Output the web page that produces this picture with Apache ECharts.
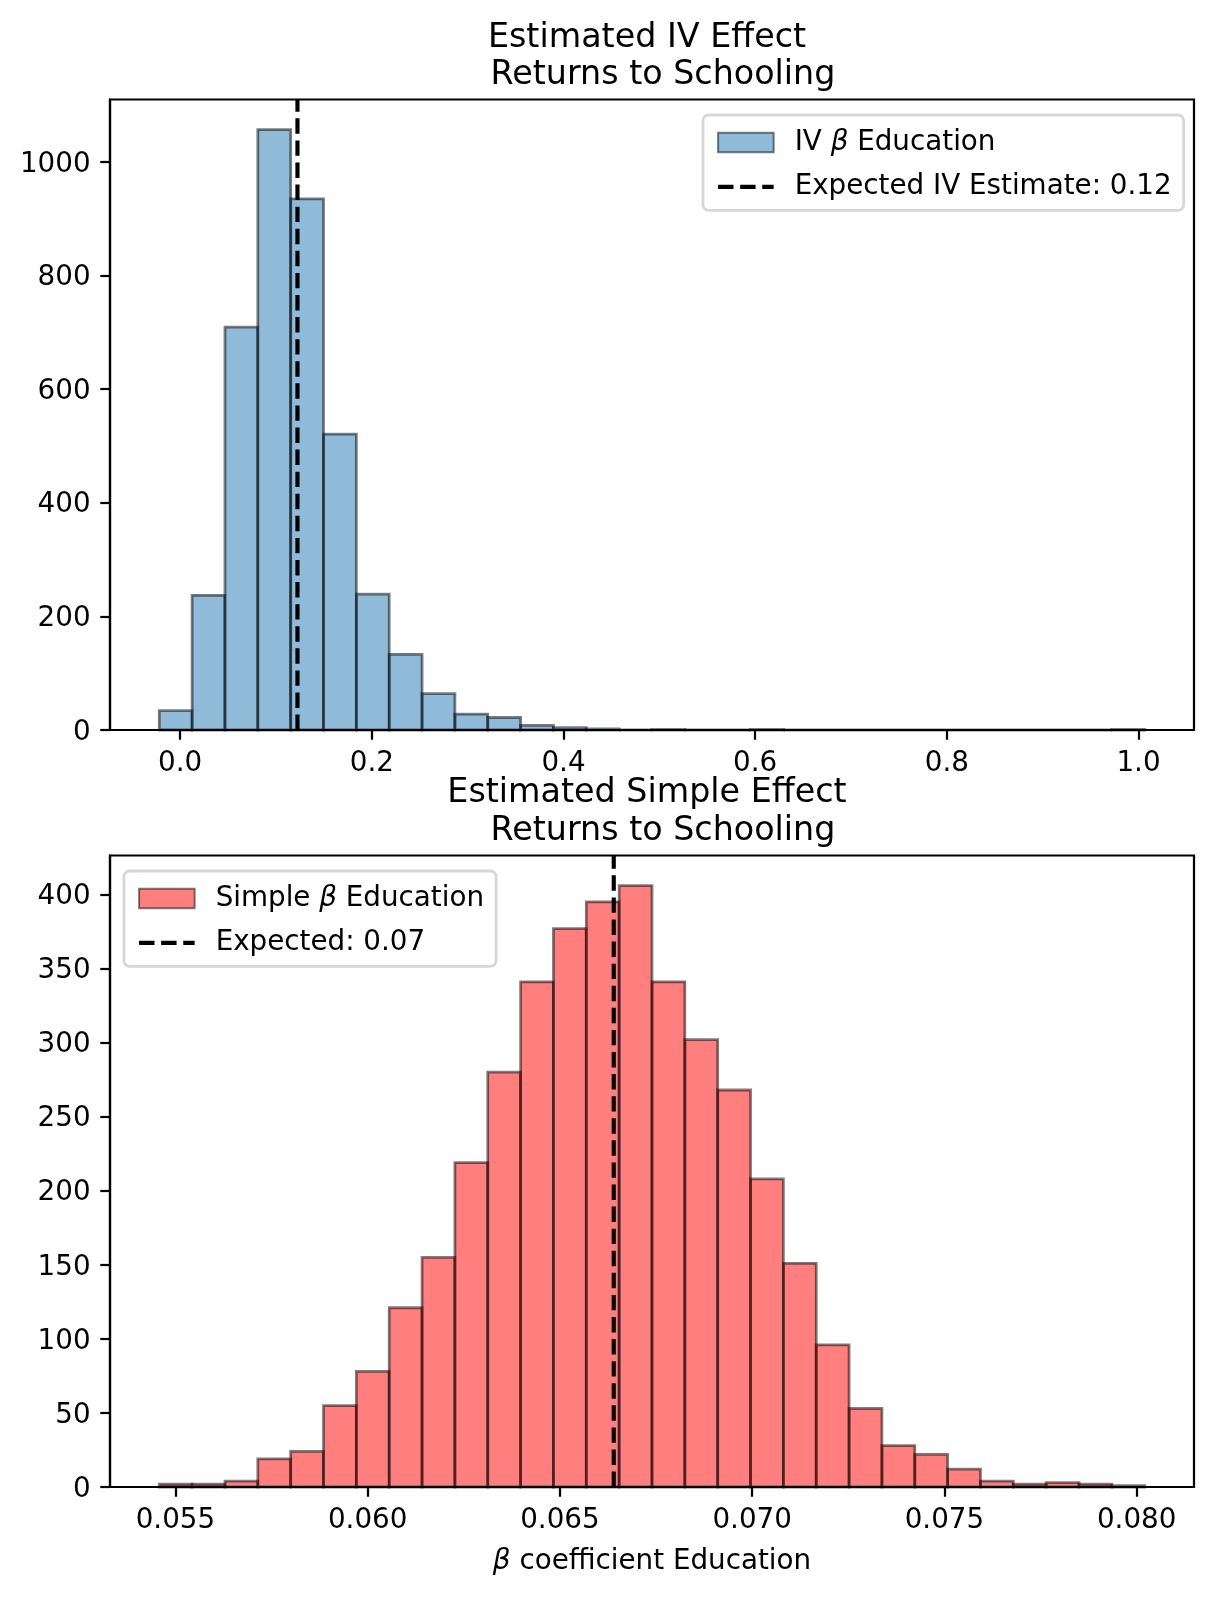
<!DOCTYPE html>
<html>
<head>
<meta charset="utf-8">
<script src="https://cdn.jsdelivr.net/npm/echarts@6/dist/echarts.min.js"></script>
<style>
  html, body { margin: 0; padding: 0; background: #ffffff; }
  #chart { width: 1214px; height: 1597px; }
</style>
</head>
<body>
<div id="chart"></div>
<script>
// IV estimate histogram, 30 equal bins over ivBinRange
const ivBinRange = [-0.0218, 1.0065];
const ivCounts = [34, 237, 709, 1057, 935, 521, 239, 133, 64, 28, 22, 8, 4, 2, 0, 1, 0, 0, 1, 0, 0, 0, 0, 0, 0, 0, 0, 0, 0, 1];
const ivExpected = 0.1224;
const ivXTicks = [0, 0.2, 0.4, 0.6, 0.8, 1.0];
const ivYTicks = [0, 200, 400, 600, 800, 1000];

// simple OLS estimate histogram, 30 equal bins over simpleBinRange
const simpleBinRange = [0.05458, 0.08021];
const simpleCounts = [2, 2, 4, 19, 24, 55, 78, 121, 155, 219, 280, 341, 377, 395, 406, 341, 302, 268, 208, 151, 96, 53, 28, 22, 12, 4, 2, 3, 2, 1];
const simpleExpected = 0.0664;
const simpleXTicks = [0.055, 0.060, 0.065, 0.070, 0.075, 0.080];
const simpleYTicks = [0, 50, 100, 150, 200, 250, 300, 350, 400];

const FONT = 'DejaVu Sans';
const PT = 200 / 72;          // figure was saved at 200 dpi
const FS = 10 * PT;           // tick / legend text
const TITLE_FS = 12 * PT;

const ivLineName = 'Expected IV Estimate: ' + ivExpected.toFixed(2);
const simpleLineName = 'Expected: ' + simpleExpected.toFixed(2);

// turn counts into [left edge, right edge, count] rows
function histRows(range, counts) {
  const w = (range[1] - range[0]) / counts.length;
  return counts.map((c, i) => [range[0] + i * w, range[0] + (i + 1) * w, c]);
}

// matplotlib default 5% x margins, 5% y headroom
function padRange(range) {
  const d = (range[1] - range[0]) * 0.05;
  return [range[0] - d, range[1] + d];
}

const ivX = padRange(ivBinRange);
const simpleX = padRange(simpleBinRange);
const ivYMax = Math.max(...ivCounts) * 1.05;
const simpleYMax = Math.max(...simpleCounts) * 1.05;

function renderBin(params, api) {
  const p0 = api.coord([api.value(0), api.value(2)]);
  const p1 = api.coord([api.value(1), 0]);
  return {
    type: 'rect',
    shape: { x: p0[0], y: p0[1], width: p1[0] - p0[0], height: p1[1] - p0[1] },
    style: api.style()
  };
}

const richBeta = { b: { fontStyle: 'italic', fontFamily: FONT, fontSize: FS, color: '#000' } };

function xAxisOf(gridIndex, ext, ticks, digits, extra) {
  return Object.assign({
    type: 'value',
    gridIndex: gridIndex,
    min: ext[0],
    max: ext[1],
    z: 3,
    axisLine: { show: true, onZero: false, lineStyle: { color: '#000', width: 0.8 * PT } },
    axisTick: { show: true, length: 3.5 * PT, customValues: ticks, lineStyle: { color: '#000', width: 0.8 * PT } },
    axisLabel: {
      customValues: ticks,
      margin: 7 * PT,
      color: '#000',
      fontFamily: FONT,
      fontSize: FS,
      formatter: v => v.toFixed(digits)
    },
    splitLine: { show: false }
  }, extra || {});
}

function yAxisOf(gridIndex, yMax, ticks) {
  return {
    type: 'value',
    gridIndex: gridIndex,
    min: 0,
    max: yMax,
    z: 3,
    axisLine: { show: true, onZero: false, lineStyle: { color: '#000', width: 0.8 * PT } },
    axisTick: { show: true, length: 3.5 * PT, customValues: ticks, lineStyle: { color: '#000', width: 0.8 * PT } },
    axisLabel: {
      customValues: ticks,
      margin: 7 * PT,
      color: '#000',
      fontFamily: FONT,
      fontSize: FS,
      // small downward nudge, matplotlib centres on the baseline
      formatter: v => '{v|' + v + '}',
      rich: { v: { fontFamily: FONT, fontSize: FS, color: '#000', padding: [5, 0, 0, 0] } }
    },
    splitLine: { show: false }
  };
}

// the dashed entry: plain line icon, its symbol made invisible
const hiddenSymbol = { color: 'rgba(0,0,0,0)', borderColor: 'rgba(0,0,0,0)', borderWidth: 0 };
const dashed = { color: '#000', width: 1.5 * PT, type: [5.55 * PT, 2.4 * PT] };

function legendOf(left, top, names) {
  return {
    orient: 'vertical',
    left: left,
    top: top,
    padding: [13.5, 12, 9.5, 13],
    itemWidth: 2 * FS,
    itemHeight: 0.7 * FS,
    itemGap: 16.3,
    backgroundColor: 'rgba(255,255,255,0.8)',
    borderColor: 'rgba(204,204,204,0.8)',
    borderWidth: PT,
    borderRadius: 0.2 * FS,
    selectedMode: false,
    textStyle: { fontFamily: FONT, fontSize: FS, color: '#000', padding: [0, 0, 0, 16], rich: richBeta },
    formatter: n => n.replace('β', '{b|β}'),
    data: [
      { name: names[0], icon: 'rect' },
      { name: names[1], itemStyle: hiddenSymbol, lineStyle: dashed }
    ]
  };
}

function titleLine(text, cx, top) {
  return {
    text: text,
    left: cx,
    top: top,
    textAlign: 'center',
    padding: 0,
    textStyle: { fontFamily: FONT, fontSize: TITLE_FS, fontWeight: 'normal', color: '#000', lineHeight: 40 }
  };
}

const option = {
  animation: false,
  backgroundColor: '#ffffff',
  title: [
    titleLine('Estimated IV Effect', 647, 18.2),
    titleLine('Returns to Schooling', 663, 55.6),
    titleLine('Estimated Simple Effect', 647, 773.3),
    titleLine('Returns to Schooling', 663, 811.5)
  ],
  legend: [
    legendOf(703, 115, ['IV β Education', ivLineName]),
    legendOf(124, 871, ['Simple β Education', simpleLineName])
  ],
  grid: [
    { left: 110, top: 99.5, width: 1084, height: 630.5, show: true, borderColor: '#000', borderWidth: 0.8 * PT, backgroundColor: 'transparent' },
    { left: 110, top: 855.5, width: 1084, height: 631.5, show: true, borderColor: '#000', borderWidth: 0.8 * PT, backgroundColor: 'transparent' }
  ],
  xAxis: [
    xAxisOf(0, ivX, ivXTicks, 1),
    xAxisOf(1, simpleX, simpleXTicks, 3, {
      name: '{b|β} coefficient Education',
      nameLocation: 'middle',
      nameGap: 61,
      nameTextStyle: { fontFamily: FONT, fontSize: FS, color: '#000', rich: richBeta }
    })
  ],
  yAxis: [
    yAxisOf(0, ivYMax, ivYTicks),
    yAxisOf(1, simpleYMax, simpleYTicks)
  ],
  series: [
    {
      type: 'custom',
      name: 'IV β Education',
      xAxisIndex: 0,
      yAxisIndex: 0,
      renderItem: renderBin,
      encode: { x: [0, 1], y: 2 },
      itemStyle: { color: 'rgba(31,119,180,0.5)', borderColor: 'rgba(0,0,0,0.5)', borderWidth: PT },
      data: histRows(ivBinRange, ivCounts)
    },
    {
      type: 'line',
      name: ivLineName,
      xAxisIndex: 0,
      yAxisIndex: 0,
      symbol: 'none',
      itemStyle: { color: '#000' },
      lineStyle: dashed,
      data: [[ivExpected, 0], [ivExpected, ivYMax]]
    },
    {
      type: 'custom',
      name: 'Simple β Education',
      xAxisIndex: 1,
      yAxisIndex: 1,
      renderItem: renderBin,
      encode: { x: [0, 1], y: 2 },
      itemStyle: { color: 'rgba(255,0,0,0.5)', borderColor: 'rgba(0,0,0,0.5)', borderWidth: PT },
      data: histRows(simpleBinRange, simpleCounts)
    },
    {
      type: 'line',
      name: simpleLineName,
      xAxisIndex: 1,
      yAxisIndex: 1,
      symbol: 'none',
      itemStyle: { color: '#000' },
      lineStyle: dashed,
      data: [[simpleExpected, 0], [simpleExpected, simpleYMax]]
    }
  ]
};

const chart = echarts.init(document.getElementById('chart'), null, { renderer: 'canvas' });
chart.setOption(option);
</script>
</body>
</html>
